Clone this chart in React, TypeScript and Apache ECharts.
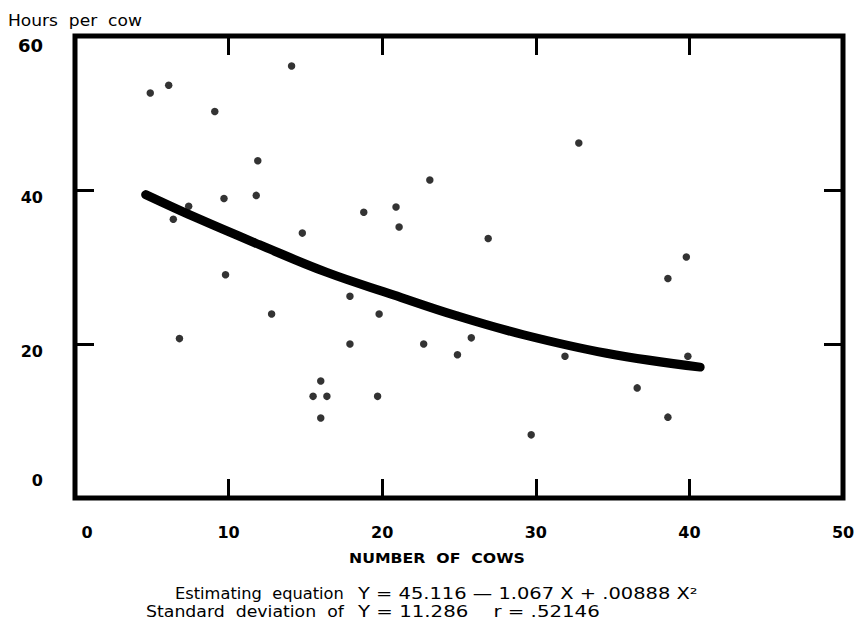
import React, { useEffect, useRef } from "react";
import * as echarts from "echarts";

const xTicks = [0, 10, 20, 30, 40, 50];
const yTicks = [0, 20, 40, 60];

const farmPoints: [number, number][] = [
  [4.9, 52.6], [6.1, 53.6], [9.1, 50.2], [14.1, 56.1], [11.9, 43.8],
  [23.1, 41.3], [9.7, 38.9], [11.8, 39.3], [7.4, 37.9], [6.4, 36.2],
  [18.8, 37.1], [20.9, 37.8], [21.1, 35.2], [14.8, 34.4], [32.8, 46.1],
  [26.9, 33.7], [39.8, 31.3], [9.8, 29.0], [12.8, 23.9], [6.8, 20.7],
  [17.9, 26.2], [19.8, 23.9], [17.9, 20.0], [22.7, 20.0], [24.9, 18.6],
  [16.0, 15.2], [15.5, 13.2], [16.4, 13.2], [19.7, 13.2], [16.0, 10.4],
  [38.6, 28.5], [25.8, 20.8], [31.9, 18.4], [39.9, 18.4], [36.6, 14.3],
  [38.6, 10.5], [29.7, 8.2],
];

const curvePoints: [number, number][] = [
  [4.6, 39.4], [8.0, 36.3], [12.0, 32.9], [16.4, 29.3], [20.7, 26.4],
  [24.8, 23.7], [29.2, 21.2], [34.6, 18.8], [40.7, 17.0],
];

const yAxisTitle = "Hours  per  cow";
const xAxisTitle = "NUMBER  OF  COWS";
const note1Words = "Estimating  equation";
const note1Formula = "Y = 45.116 — 1.067 X + .00888 X²";
const note2Words = "Standard  deviation  of";
const note2Formula = "Y = 11.286    r = .52146";

const FONT = "'DejaVu Sans', 'Noto Sans', sans-serif";

function measure(text: string, size: number, weight: string) {
  const c = document.createElement("canvas").getContext("2d");
  if (!c) return text.length * size * 0.6;
  c.font = `${weight} ${size}px 'DejaVu Sans'`;
  return c.measureText(text).width;
}

function fitText(text: string, x0: number, x1: number, yc: number, size: number, weight = "normal") {
  const w = measure(text, size, weight);
  const s = Math.max(0.7, Math.min(1.8, (x1 - x0) / w));
  return {
    type: "text",
    x: x0,
    y: yc,
    scaleX: s,
    style: {
      text,
      fontFamily: FONT,
      fontSize: size,
      fontWeight: weight,
      fill: "#000",
      align: "left",
      verticalAlign: "middle",
    },
  };
}

export default function App() {
  const ref = useRef<HTMLDivElement>(null);
  useEffect(() => {
    if (!ref.current) return;
    const chart = echarts.init(ref.current, null, { renderer: "svg" });
    const tickStyle = { show: true, inside: true, length: 19, lineStyle: { color: "#000", width: 3 } };
    const hiddenLine = { show: false, onZero: false };
    chart.setOption({
      animation: false,
      backgroundColor: "#fff",
      grid: {
        left: 75, right: 20, top: 36, bottom: 129,
        show: true, borderColor: "#000", borderWidth: 5, backgroundColor: "transparent",
      },
      xAxis: [
        {
          type: "value", min: xTicks[0], max: xTicks[xTicks.length - 1], interval: 10,
          position: "bottom",
          axisLine: hiddenLine, splitLine: { show: false },
          axisTick: tickStyle,
          axisLabel: {
            margin: 26,
            formatter: (v: number) => (v === 0 ? `{z|${v}}` : `{n|${v}}`),
            rich: {
              n: { fontFamily: FONT, fontSize: 16, fontWeight: "bold", color: "#000" },
              z: { fontFamily: FONT, fontSize: 16, fontWeight: "bold", color: "#000", padding: [0, 0, 0, 24] },
            },
          },
        },
        {
          type: "value", min: xTicks[0], max: xTicks[xTicks.length - 1], interval: 10,
          position: "top",
          axisLine: hiddenLine, splitLine: { show: false },
          axisTick: tickStyle, axisLabel: { show: false },
        },
      ],
      yAxis: [
        {
          type: "value", min: yTicks[0], max: yTicks[yTicks.length - 1], interval: 20,
          position: "left",
          axisLine: hiddenLine, splitLine: { show: false },
          axisTick: tickStyle,
          axisLabel: {
            margin: 32,
            formatter: (v: number) => (v === 60 ? `{t|${v}}` : v === 0 ? `{b|${v}}` : `{m|${v}}`),
            rich: {
              t: { fontFamily: FONT, fontSize: 18, fontWeight: "bold", color: "#000", padding: [18, 0, 0, 0] },
              b: { fontFamily: FONT, fontSize: 16, fontWeight: "bold", color: "#000", padding: [0, 0, 36, 0] },
              m: { fontFamily: FONT, fontSize: 16, fontWeight: "bold", color: "#000", padding: [14, 0, 0, 0] },
            },
          },
        },
        {
          type: "value", min: yTicks[0], max: yTicks[yTicks.length - 1], interval: 20,
          position: "right",
          axisLine: hiddenLine, splitLine: { show: false },
          axisTick: tickStyle, axisLabel: { show: false },
        },
      ],
      series: [
        {
          type: "line",
          data: curvePoints,
          smooth: 0.4,
          symbol: "none",
          lineStyle: { color: "#000", width: 9, cap: "round" },
          z: 3,
        },
        {
          type: "scatter",
          data: farmPoints,
          symbol: "circle",
          symbolSize: 7.5,
          itemStyle: { color: "#000" },
          z: 4,
        },
      ],
      graphic: [
        fitText(yAxisTitle, 8, 142, 21, 15),
        fitText(xAxisTitle, 349, 525, 558, 14, "bold"),
        fitText(note1Words, 175, 344, 594, 15),
        fitText(note1Formula, 358, 698, 594, 15),
        fitText(note2Words, 146, 344, 612, 15),
        fitText(note2Formula, 358, 600, 612, 15),
      ],
    });
    return () => chart.dispose();
  }, []);
  return <div ref={ref} style={{ width: 863, height: 627, position: "absolute", left: 0, top: 0 }} />;
}
